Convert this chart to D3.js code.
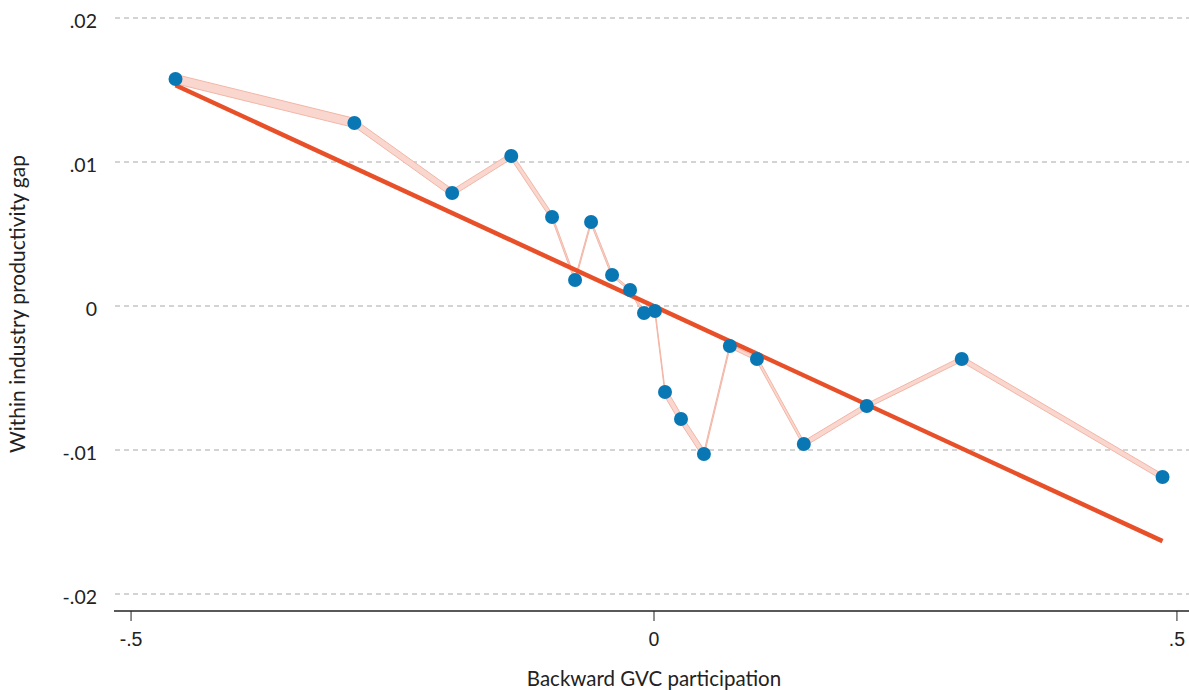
<!DOCTYPE html>
<html>
<head>
<meta charset="utf-8">
<script src="https://cdn.jsdelivr.net/npm/d3@7"></script>
<style>
  body { margin: 0; background: #fff; }
  svg { display: block; font-family: Lato, "Open Sans", sans-serif; }
  .grid line { stroke: #a8a8a8; stroke-dasharray: 5,4; stroke-width: 1; }
  .tick text { fill: #222; }
</style>
</head>
<body>
<svg id="chart" width="1189" height="690"></svg>
<script>

// binned scatter: backward GVC participation vs within industry productivity gap
const gvc = [ -0.457, -0.286, -0.1925, -0.136, -0.097, -0.075, -0.0597, -0.0396, -0.0224, -0.0091,
              0.0014, 0.011, 0.0263, 0.0482, 0.073, 0.0989, 0.1437, 0.2039, 0.2947, 0.4867 ];
const gap = [ 0.01576, 0.01271, 0.00785, 0.01042, 0.00618, 0.00181, 0.00583, 0.00215, 0.00111, -0.00049,
              -0.00035, -0.00597, -0.00785, -0.01028, -0.00278, -0.00368, -0.00958, -0.00694, -0.00368, -0.01188 ];

// half height of the band between consecutive points
const bandHalf = [ 0.00032, 0.00026, 0.00021, 0.00024, 0.00015, 0.00013, 0.00014, 0.00009, 0.00013, 0.00007,
                   0.00017, 0.00034, 0.00031, 0.00015, 0.00012, 0.00018, 0.0002, 0.00016, 0.0002 ];

// linear fit
const fitIntercept = 0.0;
const fitSlope = -0.03355;

const xTicks = [ -0.5, 0, 0.5 ];
const xTickLabels = [ "-.5", "0", ".5" ];
const yTicks = [ 0.02, 0.01, 0, -0.01, -0.02 ];
const yTickLabels = [ ".02", ".01", "0", "-.01", "-.02" ];

const svg = d3.select( "#chart" );

const x = d3.scaleLinear()
  .domain( [ -0.512, 0.512 ] )
  .range( [ 118, 1189 ] );

const y = d3.scaleLinear()
  .domain( [ -0.02, 0.02 ] )
  .range( [ 594, 18 ] );

// gridlines
svg.append( "g" )
  .attr( "class", "grid" )
  .selectAll( "line" )
  .data( yTicks )
  .enter().append( "line" )
    .attr( "x1", 115 )
    .attr( "x2", 1189 )
    .attr( "y1", d => y( d ) )
    .attr( "y2", d => y( d ) );

// y labels
svg.append( "g" )
  .selectAll( "text" )
  .data( yTicks )
  .enter().append( "text" )
    .attr( "x", 97 )
    .attr( "y", d => y( d ) )
    .attr( "dy", "0.5em" )
    .attr( "text-anchor", "end" )
    .attr( "fill", "#222" )
    .style( "font-size", "19.5px" )
    .text( ( d, i ) => yTickLabels[ i ] );

// x axis
const xAxis = svg.append( "g" )
  .attr( "transform", "translate(0,611)" )
  .call( d3.axisBottom( x )
    .tickValues( xTicks )
    .tickFormat( ( d, i ) => xTickLabels[ i ] )
    .tickSizeOuter( 0 )
    .tickSize( 10 )
    .tickPadding( 11 ) );

xAxis.select( ".domain" ).remove();

xAxis.append( "line" )
  .attr( "x1", 114 )
  .attr( "x2", 1189 )
  .attr( "stroke", "#222" )
  .attr( "stroke-width", 1.6 );

xAxis.selectAll( ".tick line" )
  .attr( "stroke", "#222" )
  .attr( "stroke-width", 1 );

xAxis.selectAll( ".tick text" )
  .style( "font-size", "19.5px" )
  .attr( "fill", "#222" );

// axis titles
svg.append( "text" )
  .attr( "x", 654 )
  .attr( "y", 686 )
  .attr( "text-anchor", "middle" )
  .attr( "fill", "#222" )
  .style( "font-size", "20.5px" )
  .text( "Backward GVC participation" );

svg.append( "text" )
  .attr( "transform", "translate(25,304) rotate(-90)" )
  .attr( "text-anchor", "middle" )
  .attr( "fill", "#222" )
  .style( "font-size", "21px" )
  .text( "Within industry productivity gap" );

// band between points
const segs = d3.range( gvc.length - 1 ).map( i => [
  { x: gvc[ i ], y: gap[ i ], h: bandHalf[ i ] },
  { x: gvc[ i + 1 ], y: gap[ i + 1 ], h: bandHalf[ i ] }
] );

const band = d3.area()
  .x( d => x( d.x ) )
  .y0( d => y( d.y - d.h ) )
  .y1( d => y( d.y + d.h ) );

svg.append( "g" )
  .selectAll( "path" )
  .data( segs )
  .enter().append( "path" )
    .attr( "d", band )
    .attr( "fill", "#f9d7cf" )
    .attr( "stroke", "#f3b6a6" )
    .attr( "stroke-width", 1 )
    .attr( "stroke-linejoin", "round" );

// fit line
const fitX = d3.extent( gvc );

svg.append( "line" )
  .attr( "x1", x( fitX[ 0 ] ) )
  .attr( "y1", y( fitIntercept + fitSlope * fitX[ 0 ] ) )
  .attr( "x2", x( fitX[ 1 ] ) )
  .attr( "y2", y( fitIntercept + fitSlope * fitX[ 1 ] ) )
  .attr( "stroke", "#e8502a" )
  .attr( "stroke-width", 4.5 );

// points
svg.append( "g" )
  .selectAll( "circle" )
  .data( gvc )
  .enter().append( "circle" )
    .attr( "cx", d => x( d ) )
    .attr( "cy", ( d, i ) => y( gap[ i ] ) )
    .attr( "r", 7 )
    .attr( "fill", "#0a77b5" );

</script>
</body>
</html>
